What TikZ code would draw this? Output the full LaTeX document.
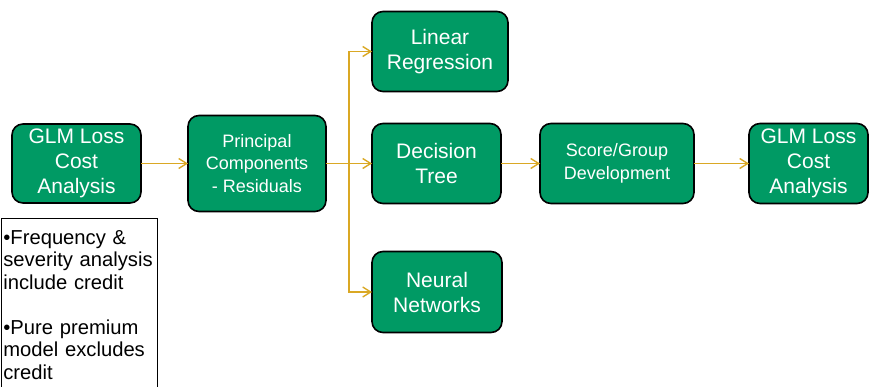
\documentclass[tikz,border=0pt]{standalone}
\usepackage{fontspec}
\setmainfont{Liberation Sans}
\usetikzlibrary{positioning,arrows.meta}
\definecolor{stagegreen}{RGB}{0,154,100}
\definecolor{flowgold}{RGB}{218,168,36}

\begin{document}
\begin{tikzpicture}[x=1pt,y=-1pt]
	\tikzset{
	  StageStyle/.style = { draw=black, line width=1.6pt, fill=stagegreen,
	                        rounded corners=11pt, text=white, align=center,
	                        inner sep=0pt, outer sep=0pt,
	                        font=\fontsize{21}{25}\selectfont },
	  SmallStageStyle/.style = { StageStyle, font=\fontsize{18}{22.5}\selectfont },
	  FlowStyle/.style = { draw=flowgold, line width=1.4pt,
	                       -{Straight Barb[length=8pt,width=10pt]} },
	  NoteStyle/.style = { draw=black, line width=0.8pt, align=left,
	                       text width=151pt, inner xsep=2.5pt, inner ysep=12pt,
	                       font=\fontsize{20.2}{22.5}\selectfont } }
	\useasboundingbox (0,0) rectangle (870,386);
	\node[StageStyle, minimum width=129pt, minimum height=79pt] (glmA) at (76.5,163.5)
	  {GLM Loss\\Cost\\Analysis};
	\node[SmallStageStyle, minimum width=138pt, minimum height=96pt,
	      right=47pt of glmA] (pca) {Principal\\Components\\- Residuals};
	\node[StageStyle, minimum width=129pt, minimum height=80pt,
	      right=46pt of pca] (tree) {Decision\\Tree};
	\node[StageStyle, minimum width=136pt, minimum height=80pt,
	      above=32pt of tree.north west, anchor=south west] (linear) {Linear\\Regression};
	\node[StageStyle, minimum width=130pt, minimum height=81pt,
	      below=48pt of tree.south west, anchor=north west] (neural) {Neural\\Networks};
	\node[SmallStageStyle, minimum width=154pt, minimum height=80pt,
	      right=39pt of tree] (score) {Score/Group\\Development};
	\node[StageStyle, minimum width=119pt, minimum height=80pt,
	      right=55pt of score] (glmB) {GLM Loss\\Cost\\Analysis};
	\node[NoteStyle, anchor=north west] (note) at (0.5,218)
	  {\textbullet Frequency \&\\severity analysis\\include credit\\[22.5pt]
	   \textbullet Pure premium\\model excludes\\credit};
	\coordinate[right=23pt of pca.east] (split);
	\draw[FlowStyle] (glmA) -- (pca);
	\draw[FlowStyle] (pca) -- (tree);
	\draw[FlowStyle] (split) |- (linear.west);
	\draw[FlowStyle] (split) |- (neural.west);
	\draw[FlowStyle] (tree) -- (score);
	\draw[FlowStyle] (score) -- (glmB);
\end{tikzpicture}
\end{document}
